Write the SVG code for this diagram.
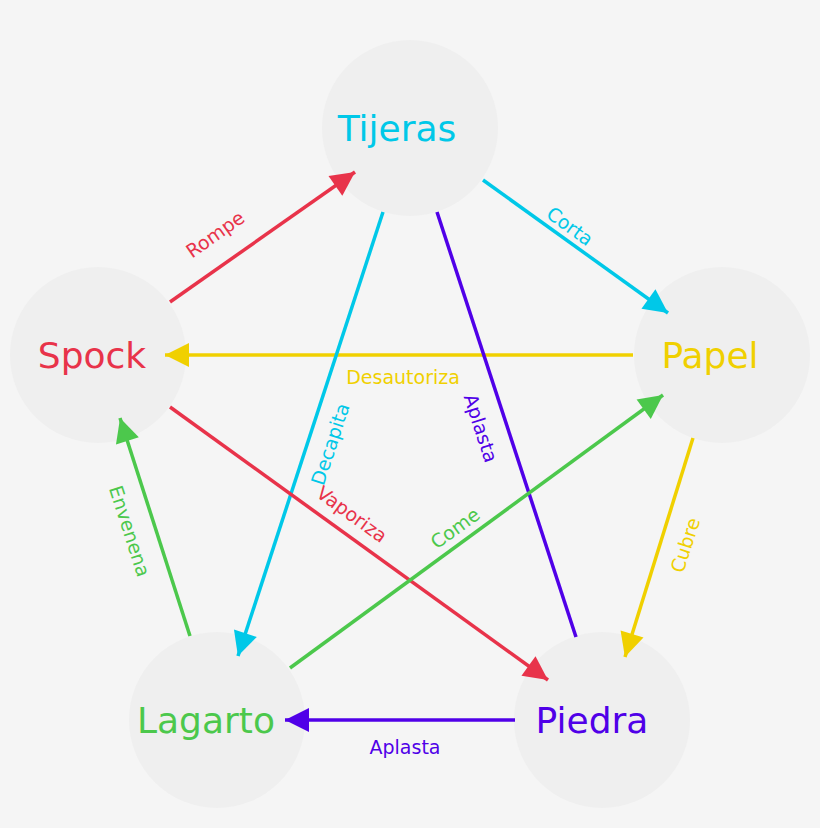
<svg xmlns="http://www.w3.org/2000/svg" width="820" height="828" viewBox="0 0 820 828">
<style>
.n{fill:#efefef}
.t{font-family:"DejaVu Sans",sans-serif;font-size:36px;text-anchor:middle;dominant-baseline:central}
.l{font-family:"DejaVu Sans",sans-serif;font-size:19px;text-anchor:middle;dominant-baseline:central}
.c{stroke-width:3.5;fill:none}
</style>
<defs>
<marker id="mr" viewBox="0 0 10 10" refX="9" refY="5" markerWidth="8" markerHeight="8" markerUnits="userSpaceOnUse" orient="auto" style="overflow:visible"><path d="M0,0 L10,5 L0,10 Z" fill="#e8334a" transform="scale(3) translate(-7,-3.3)"/></marker>
<marker id="mc" viewBox="0 0 10 10" refX="9" refY="5" markerWidth="8" markerHeight="8" markerUnits="userSpaceOnUse" orient="auto" style="overflow:visible"><path d="M0,0 L10,5 L0,10 Z" fill="#00c8e8" transform="scale(3) translate(-7,-3.3)"/></marker>
<marker id="my" viewBox="0 0 10 10" refX="9" refY="5" markerWidth="8" markerHeight="8" markerUnits="userSpaceOnUse" orient="auto" style="overflow:visible"><path d="M0,0 L10,5 L0,10 Z" fill="#f0d000" transform="scale(3) translate(-7,-3.3)"/></marker>
<marker id="mg" viewBox="0 0 10 10" refX="9" refY="5" markerWidth="8" markerHeight="8" markerUnits="userSpaceOnUse" orient="auto" style="overflow:visible"><path d="M0,0 L10,5 L0,10 Z" fill="#4cc84c" transform="scale(3) translate(-7,-3.3)"/></marker>
<marker id="mp" viewBox="0 0 10 10" refX="9" refY="5" markerWidth="8" markerHeight="8" markerUnits="userSpaceOnUse" orient="auto" style="overflow:visible"><path d="M0,0 L10,5 L0,10 Z" fill="#5000e8" transform="scale(3) translate(-7,-3.3)"/></marker>
</defs>
<rect width="820" height="828" fill="#f5f5f5"/>
<g id="tijeras"><circle class="n" cx="410" cy="128" r="88"/><text class="t" x="397" y="128" fill="#00c8e8">Tijeras</text></g>
<g id="papel"><circle class="n" cx="722" cy="355" r="88"/><text class="t" x="710" y="355" fill="#f0d000">Papel</text></g>
<g id="spock"><circle class="n" cx="98" cy="355" r="88"/><text class="t" x="92" y="355" fill="#e8334a">Spock</text></g>
<g id="lagarto"><circle class="n" cx="217" cy="720" r="88"/><text class="t" x="206" y="720" fill="#4cc84c">Lagarto</text></g>
<g id="piedra"><circle class="n" cx="602" cy="720" r="88"/><text class="t" x="592" y="720" fill="#5000e8">Piedra</text></g>
<g id="connectors">
<line class="c" stroke="#e8334a" x1="170" y1="302" x2="355" y2="172" marker-end="url(#mr)"/>
<line class="c" stroke="#00c8e8" x1="483" y1="180" x2="668" y2="313" marker-end="url(#mc)"/>
<line class="c" stroke="#f0d000" x1="633" y1="355" x2="165" y2="355" marker-end="url(#my)"/>
<line class="c" stroke="#f0d000" x1="693" y1="438" x2="625" y2="657" marker-end="url(#my)"/>
<line class="c" stroke="#5000e8" x1="515" y1="720" x2="285" y2="720" marker-end="url(#mp)"/>
<line class="c" stroke="#4cc84c" x1="190" y1="636" x2="120" y2="418" marker-end="url(#mg)"/>
<line class="c" stroke="#00c8e8" x1="383" y1="212" x2="238" y2="656" marker-end="url(#mc)"/>
<line class="c" stroke="#5000e8" x1="576" y1="637" x2="437" y2="212"/>
<line class="c" stroke="#e8334a" x1="170" y1="407" x2="548" y2="680" marker-end="url(#mr)"/>
<line class="c" stroke="#4cc84c" x1="290" y1="668" x2="663" y2="395" marker-end="url(#mg)"/>
<text class="l" fill="#e8334a" transform="translate(215,234) rotate(-35)">Rompe</text>
<text class="l" fill="#00c8e8" transform="translate(570,226) rotate(36)">Corta</text>
<text class="l" fill="#f0d000" x="403" y="377">Desautoriza</text>
<text class="l" fill="#f0d000" transform="translate(685,545) rotate(-72)">Cubre</text>
<text class="l" fill="#5000e8" x="405" y="747">Aplasta</text>
<text class="l" fill="#4cc84c" transform="translate(130,531) rotate(72)">Envenena</text>
<text class="l" fill="#00c8e8" transform="translate(330,444) rotate(-72)">Decapita</text>
<text class="l" fill="#5000e8" transform="translate(481,428) rotate(72)">Aplasta</text>
<text class="l" fill="#e8334a" transform="translate(352,514) rotate(36)">Vaporiza</text>
<text class="l" fill="#4cc84c" transform="translate(455,528) rotate(-36)">Come</text>
</g>
</svg>
